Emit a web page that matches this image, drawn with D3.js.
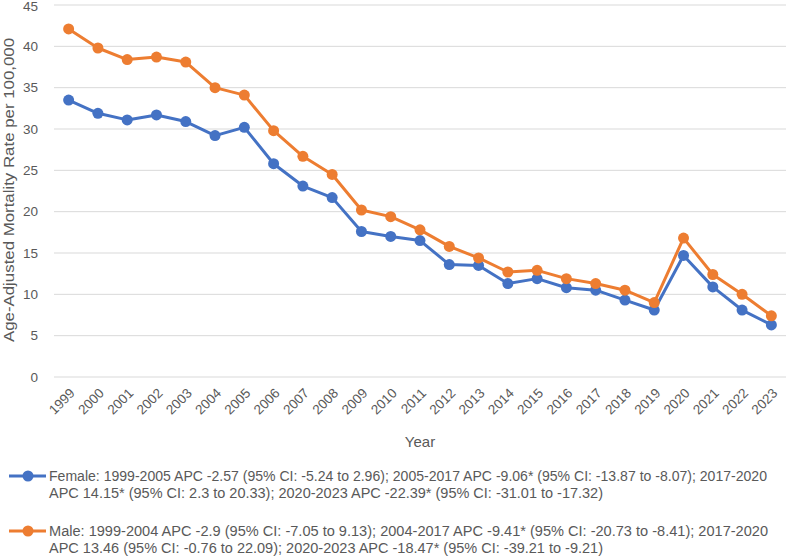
<!DOCTYPE html>
<html>
<head>
<meta charset="utf-8">
<script src="https://cdn.jsdelivr.net/npm/d3@7"></script>
<style>
  body { margin: 0; background: #fff; }
  svg { display: block; font-family: "Liberation Sans", Arial, sans-serif; }
</style>
</head>
<body>
<div id="chart"></div>
<script>
// Data
const years = d3.range(1999, 2024).map(String);
const female = [33.5, 31.9, 31.1, 31.7, 30.9, 29.2, 30.2, 25.8, 23.1, 21.7, 17.6, 17.0, 16.5, 13.6, 13.5,
  11.3, 11.9, 10.8, 10.5, 9.3, 8.1, 14.7, 10.9, 8.1, 6.3];
const male = [42.1, 39.8, 38.4, 38.7, 38.1, 35.0, 34.1, 29.8, 26.7, 24.5, 20.2, 19.4, 17.8, 15.8, 14.4,
  12.7, 12.9, 11.9, 11.3, 10.5, 9.0, 16.8, 12.4, 10.0, 7.4];
const yTicks = [0, 5, 10, 15, 20, 25, 30, 35, 40, 45];
const seriesNames = ["Female", "Male"];
const seriesColors = ["#4472C4", "#ED7D31"];
const legendLines = [
  ["Female: 1999-2005 APC -2.57 (95% CI: -5.24 to 2.96); 2005-2017 APC -9.06* (95% CI: -13.87 to -8.07); 2017-2020",
   "APC 14.15* (95% CI: 2.3 to 20.33); 2020-2023 APC -22.39* (95% CI: -31.01 to -17.32)"],
  ["Male: 1999-2004 APC -2.9 (95% CI: -7.05 to 9.13); 2004-2017 APC -9.41* (95% CI: -20.73 to -8.41); 2017-2020",
   "APC 13.46 (95% CI: -0.76 to 22.09); 2020-2023 APC -18.47* (95% CI: -39.21 to -9.21)"]
];
const legendWidths = [[718, 554], [719, 554]];

const width = 794, height = 559;
const margin = {top: 5, right: 8, bottom: 182, left: 54};
const textColor = "#595959";

const svg = d3.select("#chart").append("svg")
  .attr("width", width)
  .attr("height", height);

const x = d3.scaleBand().domain(years).range([margin.left, width - margin.right]);
const y = d3.scaleLinear().domain([0, 45]).range([height - margin.bottom, margin.top]);

// gridlines
svg.append("g")
  .selectAll("line")
  .data(yTicks)
  .join("line")
  .attr("x1", margin.left)
  .attr("x2", width - margin.right)
  .attr("y1", d => y(d))
  .attr("y2", d => y(d))
  .attr("stroke", "#d9d9d9")
  .attr("stroke-width", 1);

// y tick labels
const yAxis = d3.axisLeft(y).tickValues(yTicks).tickSize(0).tickPadding(16);
svg.append("g")
  .attr("transform", `translate(${margin.left},0)`)
  .call(yAxis)
  .call(g => g.select(".domain").remove())
  .call(g => g.selectAll("text")
    .attr("fill", textColor)
    .attr("font-size", 13.5)
    .attr("font-family", "Liberation Sans, Arial, sans-serif"))
  .call(g => g.selectAll(".tick").filter(d => d === 45).select("text").attr("dy", "0.4em"));

// x tick labels, rotated
const xAxis = d3.axisBottom(x).tickSize(0).tickPadding(0);
svg.append("g")
  .attr("transform", `translate(0,${y(0)})`)
  .call(xAxis)
  .call(g => g.select(".domain").remove())
  .call(g => g.selectAll("text")
    .attr("fill", textColor)
    .attr("font-size", 13.5)
    .attr("font-family", "Liberation Sans, Arial, sans-serif")
    .attr("text-anchor", "end")
    .attr("dy", null)
    .attr("y", 0)
    .attr("transform", "translate(7,17) rotate(-45)"));

// axis titles
svg.append("text")
  .attr("x", (margin.left + width - margin.right) / 2)
  .attr("y", 447)
  .attr("text-anchor", "middle")
  .attr("fill", textColor)
  .attr("font-size", 15)
  .text("Year");

svg.append("text")
  .attr("transform", `translate(14,190) rotate(-90)`)
  .attr("text-anchor", "middle")
  .attr("fill", textColor)
  .attr("font-size", 15)
  .attr("textLength", 304)
  .attr("lengthAdjust", "spacingAndGlyphs")
  .text("Age-Adjusted Mortality Rate per 100,000");

// lines and markers
const seriesData = [female, male];
const line = d3.line()
  .x((d, i) => x(years[i]) + x.bandwidth() / 2)
  .y(d => y(d));

seriesData.forEach((vals, k) => {
  const g = svg.append("g");
  g.append("path")
    .datum(vals)
    .attr("fill", "none")
    .attr("stroke", seriesColors[k])
    .attr("stroke-width", 3)
    .attr("stroke-linejoin", "round")
    .attr("d", line);
  g.selectAll("circle")
    .data(vals)
    .join("circle")
    .attr("cx", (d, i) => x(years[i]) + x.bandwidth() / 2)
    .attr("cy", d => y(d))
    .attr("r", 5.5)
    .attr("fill", seriesColors[k]);
});

// legend
const legendTop = [476, 531];
seriesNames.forEach((name, k) => {
  const g = svg.append("g").attr("transform", `translate(0,${legendTop[k]})`);
  g.append("line")
    .attr("x1", 9).attr("x2", 46)
    .attr("stroke", seriesColors[k])
    .attr("stroke-width", 3);
  g.append("circle")
    .attr("cx", 28).attr("r", 5.5)
    .attr("fill", seriesColors[k]);
  legendLines[k].forEach((txt, j) => {
    g.append("text")
      .attr("x", 49)
      .attr("y", 5 + j * 17)
      .attr("fill", textColor)
      .attr("font-size", 14)
      .attr("textLength", legendWidths[k][j])
      .attr("lengthAdjust", "spacingAndGlyphs")
      .text(txt);
  });
});
</script>
</body>
</html>
